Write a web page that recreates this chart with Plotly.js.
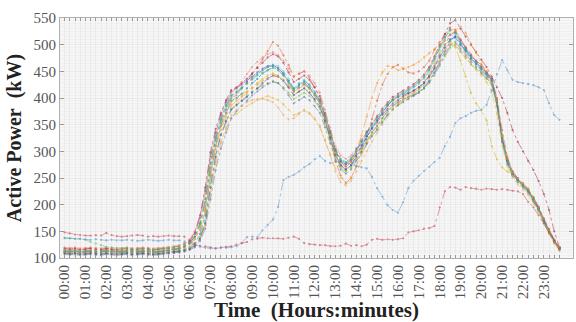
<!DOCTYPE html>
<html><head><meta charset="utf-8">
<script src="https://cdn.plot.ly/plotly-3.0.1.min.js"></script>
<style>html,body{margin:0;padding:0;background:#fff}#chart{width:576px;height:322px}</style>
</head><body><div id="chart"></div>
<script>
// time axis labels (one point every 15 minutes, 96 per day)
const hourLabels = ['00:00','01:00','02:00','03:00','04:00','05:00','06:00','07:00','08:00','09:00','10:00','11:00',
  '12:00','13:00','14:00','15:00','16:00','17:00','18:00','19:00','20:00','21:00','22:00','23:00'];
const stepsPerHour = 4;

// daily active power profiles (kW), 15-min resolution
const day01 = [112,111,112,110,111,112,110,111,113,112,111,110,111,112,110,111,112,111,110,112,113,112,114,116,
 120,128,145,180,255,310,348,372, 395,400,408,418,428,436,446,452, 458,452,442,428,412,420,426,418,
 405,390,360,328,294,274,266,274, 290,305,322,336,348,362,376,386, 392,398,402,406,412,420,432,448,
 468,488,506,516,502,490,476,466, 456,446,432,390,322,282,258,246, 236,226,210,192,170,150,132,118];
const day02 = [116,115,117,115,116,118,115,116,117,116,115,114,116,117,115,116,117,115,116,117,118,117,119,121,
 128,140,165,205,270,320,352,378, 400,405,418,430,445,458,472,488, 505,498,480,462,440,445,450,438,
 420,398,362,322,282,255,240,250, 272,300,330,360,395,425,445,458, 462,455,448,446,450,458,470,490,
 505,520,532,528,510,495,480,470, 462,450,436,400,340,290,262,248, 238,228,212,195,172,152,134,120];
const day03 = [108,107,108,106,107,108,107,106,108,107,106,107,108,106,107,108,107,106,107,108,109,110,111,113,
 116,122,135,160,220,275,315,342, 362,370,378,385,390,396,400,404, 400,396,388,378,368,372,376,370,
 360,345,320,295,268,250,242,252, 270,292,315,335,352,370,385,395, 400,404,408,412,418,426,438,455,
 472,490,502,498,486,474,462,452, 442,430,412,370,310,272,250,238, 228,218,202,185,165,146,128,115];
const day04 = [113,112,114,112,113,114,112,113,115,114,113,112,113,114,112,113,114,113,112,114,115,116,118,122,
 130,145,175,225,290,335,368,392, 412,418,425,432,440,448,455,460, 462,456,446,432,415,424,430,420,
 408,394,366,334,300,280,272,280, 296,312,328,342,355,368,380,390, 396,402,408,414,420,430,442,460,
 480,500,518,524,508,494,480,468, 458,448,436,396,326,284,262,250, 240,228,214,196,174,154,134,120];
const day05 = [110,109,110,108,109,110,109,108,110,109,108,109,110,108,109,110,109,108,109,110,111,112,113,115,
 118,125,140,170,240,295,332,358, 380,388,396,405,412,418,424,428, 432,428,420,410,398,404,410,404,
 394,380,352,322,290,270,262,270, 285,300,316,330,342,356,370,380, 388,394,400,405,410,418,428,442,
 460,478,494,500,488,476,464,455, 446,436,424,385,320,278,256,244, 234,224,208,190,168,148,130,116];
const day06 = [115,114,115,113,114,115,114,113,115,114,113,114,115,113,114,115,114,113,114,115,116,117,119,122,
 128,138,158,195,262,318,355,380, 402,410,418,428,438,446,452,458, 462,460,450,436,418,428,434,426,
 412,396,366,334,300,282,276,284, 300,316,332,346,358,372,386,396, 402,408,414,420,426,436,450,470,
 490,508,520,512,498,486,472,462, 452,440,428,388,318,280,256,244, 234,224,208,190,168,148,130,118];
const day07 = [118,117,118,116,117,118,117,116,118,117,116,117,118,116,117,118,117,116,117,118,119,120,122,126,
 132,148,180,232,298,342,372,396, 415,420,428,436,446,456,466,476, 482,478,466,448,430,436,442,434,
 420,404,372,338,302,282,276,284, 300,318,336,352,366,380,392,402, 408,414,420,426,434,444,458,478,
 500,520,540,546,530,515,500,486, 472,458,440,420,400,372,340,318, 300,282,265,244,220,190,150,120];
const day08 = [120,119,120,118,119,120,119,118,120,119,118,119,120,118,119,120,119,118,119,120,121,122,124,128,
 135,150,178,220,285,330,362,388, 410,418,430,445,458,468,476,482, 486,480,470,455,440,446,450,442,
 428,410,378,344,310,292,286,292, 306,322,338,352,364,378,390,400, 406,412,418,424,432,442,456,476,
 498,516,530,526,510,496,482,470, 460,448,434,392,330,286,262,250, 240,230,214,196,174,154,134,120];
const day09 = [107,106,107,105,106,107,106,105,107,106,105,106,107,105,106,107,106,105,106,107,108,109,110,112,
 115,120,132,155,210,265,305,335, 362,375,385,395,405,412,420,426, 430,428,418,405,390,396,402,396,
 385,372,345,315,285,266,258,266, 282,298,314,328,340,354,368,378, 386,392,398,404,410,418,430,446,
 464,482,498,504,492,480,468,458, 448,438,426,386,318,276,254,242, 232,222,206,188,166,146,128,114];
const day10 = [111,110,111,109,110,111,110,109,111,110,109,110,111,109,110,111,110,109,110,111,112,113,114,117,
 120,126,138,162,225,280,318,345, 368,378,386,392,396,398,398,396, 392,382,368,360,362,370,378,372,
 362,348,322,292,262,242,236,245, 262,282,300,318,335,350,365,378, 390,398,405,410,416,424,436,452,
 468,486,500,506,494,482,470,460, 450,440,428,388,322,280,256,244, 234,224,208,190,168,148,130,116];
const day11 = [114,113,114,112,113,114,113,112,114,113,112,113,114,112,113,114,113,112,113,114,115,116,118,121,
 126,135,155,192,260,312,346,370, 392,398,405,412,420,428,436,442, 446,442,434,420,405,412,418,410,
 398,384,356,326,292,272,264,272, 288,304,320,334,346,360,374,384, 390,396,402,408,416,428,444,464,
 484,500,508,495,470,440,410,390, 377,358,310,285,270,262,256,248, 240,230,212,192,168,146,128,116];
const day12 = [109,108,109,107,108,109,108,107,109,108,107,108,109,107,108,109,108,107,108,109,110,111,112,114,
 117,123,136,165,232,290,330,356, 378,386,394,402,410,418,428,436, 442,440,432,420,406,412,418,410,
 398,384,356,326,294,274,266,274, 292,310,328,344,358,372,386,396, 402,406,410,414,420,428,440,456,
 476,494,510,514,500,488,474,464, 454,444,432,392,324,282,258,246, 236,226,210,192,170,150,132,118];
const day13 = [137,137,136,136,134,130,127,124,121,120,119,118,119,118,117,118,117,116,117,118,119,120,122,125,
 130,140,162,205,275,325,358,384, 404,410,418,426,434,442,448,452, 456,452,444,430,416,422,428,420,
 408,394,368,336,302,284,278,286, 302,318,334,348,360,374,386,396, 402,408,414,420,428,438,452,472,
 494,512,526,520,504,490,476,466, 456,444,430,388,322,282,258,246, 236,226,210,192,170,150,132,118];
const day14 = [112,111,113,111,112,113,111,112,113,112,111,112,113,111,112,113,112,111,112,113,114,115,117,120,
 125,135,152,188,255,305,340,365, 386,394,402,410,418,425,432,438, 442,440,434,424,412,418,424,418,
 406,390,362,330,296,276,270,280, 300,330,365,400,428,448,460,458, 452,454,458,462,468,476,484,492,
 498,508,518,526,534,522,502,484, 465,448,432,395,330,285,260,248, 238,228,212,194,172,152,134,120];
const day15 = [113,112,113,111,112,113,112,111,113,112,111,112,113,111,112,113,112,111,112,113,114,115,117,121,
 128,140,165,210,278,326,360,386, 405,412,420,428,436,444,452,458, 460,456,446,432,418,426,432,424,
 410,396,368,336,304,286,280,288, 304,320,336,350,362,376,388,398, 404,410,416,422,430,440,454,474,
 496,514,528,522,506,492,478,468, 458,446,434,392,324,282,258,246, 236,226,210,192,170,150,132,118];
const day16 = [138,137,136,136,135,134,135,134,133,134,133,133,134,133,132,133,134,133,132,133,134,133,133,131,
 128,124,121,119,118,118,119,119, 120,122,128,139,140,139,152,162, 172,196,246,252,256,262,270,276,
 285,291,282,278,280,281,278,275, 272,270,268,252,231,215,199,190, 185,205,231,245,254,263,271,280,
 288,310,327,353,362,366,372,376, 378,387,415,445,471,452,434,430, 428,426,424,420,415,390,368,359];
const day17 = [148,146,144,143,142,142,143,142,147,143,141,140,141,142,143,142,140,141,140,141,142,141,141,140,
 132,126,123,122,120,118,120,121, 122,125,128,130,135,136,138,137, 137,137,136,138,140,136,128,126,
 125,124,124,122,122,123,127,123, 124,122,125,134,136,134,135,134, 135,137,148,150,152,155,156,160,
 195,225,233,232,228,233,231,230, 228,230,229,228,229,228,226,225, 220,205,195,180,165,148,132,118];

const days = [day01,day02,day03,day04,day05,day06,day07,day08,day09,day10,day11,day12,day13,day14,day15,day16,day17];
const colors = ['#0072BD','#D95319','#EDB120','#7E2F8E','#77AC30','#4DBEEE','#A2142F','#F07070','#5A6FA0',
  '#E8A060','#D4B000','#2040C0','#60C060','#FF8C00','#20A0A0','#4A90D0','#C8404F'];

const xs = day01.map((_, i) => i / stepsPerHour);
const traces = days.map((d, k) => ({
  x: xs, y: d, type: 'scatter', mode: 'lines+markers',
  line: {color: colors[k], width: 0.8, dash: 'dashdot'},
  marker: {color: colors[k], size: 2.2},
  opacity: 0.6, showlegend: false, hoverinfo: 'skip'
}));

const tickvals = xs.slice();
const ticktext = xs.map((x, i) => (i % stepsPerHour === 0) ? hourLabels[i / stepsPerHour] : '');

const serif = 'Liberation Serif';
const layout = {
  width: 576, height: 322,
  margin: {l: 60, r: 3, t: 18, b: 64},
  paper_bgcolor: '#ffffff', plot_bgcolor: '#f6f6f6',
  showlegend: false,
  xaxis: {
    range: [-0.22, 24.4], tickmode: 'array', tickvals: tickvals, ticktext: ticktext,
    tickangle: -90, ticks: 'inside', ticklen: 3, tickcolor: '#9a9a9a',
    showline: true, linecolor: '#b0b0b0', linewidth: 1, mirror: 'ticks',
    showgrid: true, gridcolor: '#e4e4e4', gridwidth: 0.6, zeroline: false,
    tickfont: {family: serif, size: 15, color: '#555'},
    title: {text: 'Time\u00A0\u00A0(Hours:minutes)', font: {family: serif, size: 21, color: '#222', weight: 'bold'}, standoff: 6}
  },
  yaxis: {
    range: [100, 550], dtick: 50, tick0: 100,
    ticks: 'inside', ticklen: 4, tickcolor: '#9a9a9a',
    showline: true, linecolor: '#b0b0b0', linewidth: 1, mirror: 'ticks',
    showgrid: true, gridcolor: '#e2e2e2', gridwidth: 0.6, zeroline: false,
    minor: {dtick: 5, showgrid: true, gridcolor: '#eaeaea', gridwidth: 0.5},
    tickfont: {family: serif, size: 15, color: '#555'},
    title: {text: 'Active Power\u00A0\u00A0(kW)', font: {family: serif, size: 20, color: '#222', weight: 'bold'}, standoff: 6}
  }
};

Plotly.newPlot('chart', traces, layout, {staticPlot: true, displayModeBar: false});
</script></body></html>
